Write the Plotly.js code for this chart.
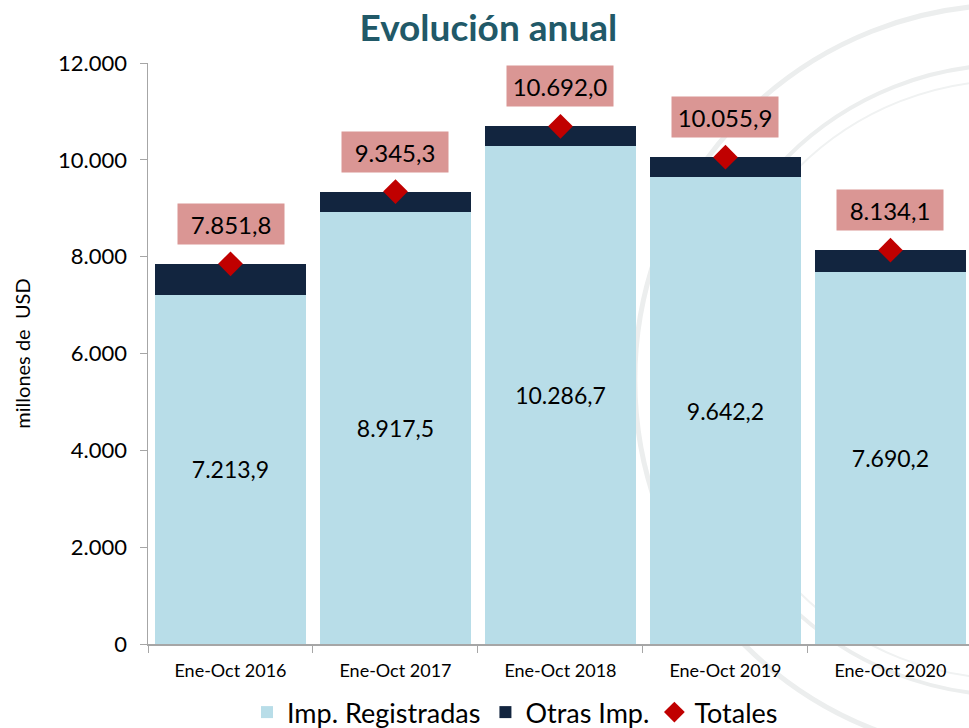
<!DOCTYPE html>
<html>
<head>
<meta charset="utf-8">
<script src="https://cdn.plot.ly/plotly-3.0.1.min.js"></script>
<style>
  body { margin: 0; background: #fff; }
  #chart { width: 969px; height: 728px; }
</style>
</head>
<body>
<div id="chart"></div>
<script>
// periods and values (millones de USD)
let periodos = ["Ene-Oct 2016", "Ene-Oct 2017", "Ene-Oct 2018", "Ene-Oct 2019", "Ene-Oct 2020"];
let registradas = [7213.9, 8917.5, 10286.7, 9642.2, 7690.2];
let totales = [7851.8, 9345.3, 10692.0, 10055.9, 8134.1];
let otras = [637.9, 427.8, 405.3, 413.7, 443.9];

let baseFont = "Lato, 'DejaVu Sans', sans-serif";

// light blue part with value in the middle
let trace1 = {
    x: periodos,
    y: registradas,
    type: "bar",
    name: "Imp. Registradas",
    marker: {color: "#b8dde8"},
    texttemplate: "%{y:,.1f}",
    textposition: "inside",
    insidetextanchor: "middle",
    constraintext: "none",
    textangle: 0,
    textfont: {size: 23, color: "#000", family: baseFont},
    hoverinfo: "skip"
};

// dark top part
let trace2 = {
    x: periodos,
    y: otras,
    type: "bar",
    name: "Otras Imp.",
    marker: {color: "#12253f"},
    textposition: "none",
    hoverinfo: "skip"
};

// totals as red diamonds
let trace3 = {
    x: periodos,
    y: totales,
    type: "scatter",
    mode: "markers",
    name: "Totales",
    marker: {symbol: "diamond", size: 19, color: "#c00000"},
    hoverinfo: "skip"
};

// pink boxes with the totals
let labels = periodos.map(function (p, i) {
    return {
        x: p,
        y: totales[i],
        text: totales[i].toLocaleString("de-DE", {minimumFractionDigits: 1, maximumFractionDigits: 1}),
        showarrow: false,
        yshift: 40,
        width: 96,
        height: 30,
        bgcolor: "#da9694",
        borderpad: 5,
        font: {size: 24, color: "#000", family: baseFont}
    };
});

// faint seal in the background
let sello = [
    {type: "circle", xref: "paper", yref: "paper", layer: "below",
     x0: 0.593, x1: 1.507, y0: -0.191, y1: 1.1,
     line: {color: "#eceeee", width: 5}},
    {type: "circle", xref: "paper", yref: "paper", layer: "below",
     x0: 0.666, x1: 1.434, y0: -0.088, y1: 0.997,
     line: {color: "#eceeee", width: 4}},
    {type: "circle", xref: "paper", yref: "paper", layer: "below",
     x0: 0.685, x1: 1.415, y0: -0.060, y1: 0.970,
     line: {color: "#f0f2f2", width: 2}}
];

let layout = {
    width: 969,
    height: 728,
    margin: {l: 148, r: 0, t: 63, b: 84, autoexpand: false},
    separators: ",.",
    barmode: "stack",
    bargap: 0.09,
    paper_bgcolor: "#fff",
    plot_bgcolor: "rgba(0,0,0,0)",
    font: {family: baseFont, color: "#000"},
    title: {
        text: "<b>Evolución anual</b>",
        x: 0.504, xref: "container", xanchor: "center",
        y: 0.962, yanchor: "middle",
        font: {size: 37, color: "#215968", family: baseFont}
    },
    xaxis: {
        range: [-0.5, 4.476],
        showline: true,
        linecolor: "#a6a6a6",
        linewidth: 1.5,
        ticks: "outside",
        tickson: "boundaries",
        ticklen: 7,
        tickcolor: "#a6a6a6",
        tickfont: {size: 18},
        ticklabelstandoff: 10,
        showgrid: false
    },
    yaxis: {
        range: [0, 12000],
        tickvals: [0, 2000, 4000, 6000, 8000, 10000, 12000],
        tickformat: ",d",
        showline: true,
        linecolor: "#a6a6a6",
        linewidth: 1.5,
        ticks: "outside",
        ticklen: 7,
        tickcolor: "#a6a6a6",
        tickfont: {size: 22},
        ticklabelstandoff: 8,
        showgrid: false,
        zeroline: false,
        title: {text: "millones de  USD", font: {size: 20}, standoff: 22}
    },
    legend: {
        orientation: "h",
        x: 0.447, xanchor: "center",
        y: -0.118, yanchor: "middle",
        font: {size: 27},
        traceorder: "normal"
    },
    shapes: sello,
    annotations: labels,
    showlegend: true
};

Plotly.newPlot("chart", [trace1, trace2, trace3], layout, {displayModeBar: false, staticPlot: true});
</script>
</body>
</html>
